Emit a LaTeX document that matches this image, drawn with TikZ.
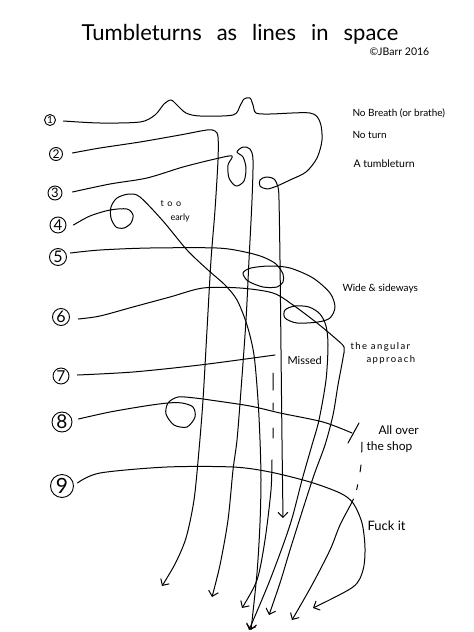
\documentclass[tikz,border=0pt]{standalone}
\usepackage{fontspec}
\setmainfont{Lato}
\usetikzlibrary{arrows.meta}
\begin{document}
\begin{tikzpicture}[x=1pt,y=-1pt,line width=1pt,line cap=round,line join=round,
  arr/.style={-{Straight Barb[length=5pt,width=10pt]}},
  sm/.style={smooth,tension=0.5},
  num/.style={circle,draw,line width=0.9pt,inner sep=0pt},
  hand/.style={inner sep=0pt,anchor=base west}]
\useasboundingbox (0,0) rectangle (474,632);
% title
\node[inner sep=0pt,anchor=base,font=\fontsize{22}{24}\selectfont] (title) at (240,40) {\spaceskip=15pt Tumbleturns as lines in space};
\node[hand,font=\fontsize{10.5}{12}\selectfont] (copy) at (369,55) {\textcopyright JBarr 2016};
% number circles
\node[num,minimum size=11pt,font=\fontsize{10}{10}\selectfont] (c1) at (50,120) {1};
\node[num,minimum size=13pt,font=\fontsize{12}{12}\selectfont] (c2) at (56,154) {2};
\node[num,minimum size=14pt,font=\fontsize{13}{13}\selectfont] (c3) at (55,193) {3};
\node[num,minimum size=16pt,font=\fontsize{15}{15}\selectfont] (c4) at (58,225) {4};
\node[num,minimum size=17pt,font=\fontsize{16}{16}\selectfont] (c5) at (58,257) {5};
\node[num,minimum size=17pt,font=\fontsize{16}{16}\selectfont] (c6) at (61,317) {6};
\node[num,minimum size=16pt,font=\fontsize{15}{15}\selectfont] (c7) at (61,376) {7};
\node[num,minimum size=20pt,font=\fontsize{19}{19}\selectfont] (c8) at (62,422) {8};
\node[num,minimum size=23pt,font=\fontsize{21}{21}\selectfont] (c9) at (62,486) {9};
% labels
\node[hand,font=\fontsize{10}{12}\selectfont] (l1) at (352,116) {No Breath (or brathe)};
\node[hand,font=\fontsize{10}{12}\selectfont] (l2) at (352,138) {No turn};
\node[hand,font=\fontsize{10.5}{12}\selectfont] (l3) at (353,167) {A tumbleturn};
\node[hand,font=\fontsize{9}{10}\selectfont\addfontfeature{LetterSpace=40}] (l4a) at (160,206) {too};
\node[hand,font=\fontsize{9}{10}\selectfont] (l4b) at (170,220) {early};
\node[hand,font=\fontsize{10}{12}\selectfont] (l5) at (342,291) {Wide \& sideways};
\node[hand,font=\fontsize{9.5}{10}\selectfont\addfontfeature{LetterSpace=15}] (l6a) at (350,349) {the angular};
\node[hand,font=\fontsize{9.5}{10}\selectfont\addfontfeature{LetterSpace=15}] (l6b) at (366,362) {approach};
\node[hand,font=\fontsize{11}{12}\selectfont] (l7) at (287,364) {Missed};
\node[hand,font=\fontsize{12}{13}\selectfont] (l8a) at (378,434) {All over};
\node[hand,font=\fontsize{12}{13}\selectfont] (l8b) at (366,450) {the shop};
\node[hand,font=\fontsize{13}{14}\selectfont] (l9) at (367,530) {Fuck it};
% start points
\coordinate (s1) at ([xshift=7.5pt,yshift=-1pt]c1.east);
\coordinate (s2) at ([xshift=9.5pt,yshift=1pt]c2.east);
\coordinate (s3) at ([xshift=10pt,yshift=1pt]c3.east);
\coordinate (s4) at ([xshift=7pt]c4.east);
\coordinate (s5) at ([xshift=3.5pt,yshift=4pt]c5.east);
\coordinate (s6) at ([xshift=8.5pt,yshift=-2pt]c6.east);
\coordinate (s7) at ([xshift=8pt,yshift=1pt]c7.east);
\coordinate (s8) at ([xshift=6pt,yshift=3pt]c8.east);
\coordinate (s9) at ([xshift=3.5pt,yshift=3pt]c9.east);
% end points
\coordinate (e1) at (283,518);
\coordinate (e2) at (162,586);
\coordinate (e3) at (212,597);
\coordinate (e4) at (251,630);
\coordinate (e5) at (249,630);
\coordinate (e6) at (269,615);
\coordinate (m7) at (275,355);
\coordinate (d7) at (273,373);
\coordinate (e7) at (242,608);
\coordinate (n8) at (352,433);
\coordinate (sl1) at (348,443);
\coordinate (sl2) at (359,423);
\coordinate (d8) at (362,442);
\coordinate (e8) at (292,620);
\coordinate (e9) at (313,608);
% line 1
\draw[arr] plot[sm] coordinates {(s1) (100,123) (140,122) (155,115) (164,104) (171,100) (177,105) (186,113) (200,116) (233,115) (240,106) (244,99) (250,98) (253,105) (256,113) (270,114) (310,113) (320,122) (322,140) (317,158) (306,172) (290,180) (277,186) (267,189) (260,186) (260,180) (266,177) (274,179) (278,187) (279,200) (280,260) (281,350) (282,440) (e1)};
% line 2
\draw[arr] plot[sm] coordinates {(s2) (100,148) (140,142) (180,135) (207,130) (215,131) (218,137) (218,160) (215,210) (211,260) (207,330) (203,400) (199,450) (194,500) (186,538) (175,564) (e2)};
% line 3
\draw[arr] plot[sm] coordinates {(s3) (110,184) (147,178) (183,167) (215,159) (232,156) (228,165) (229,178) (236,186) (244,181) (246,168) (243,157) (237,152) (243,147) (250,149) (253,160) (252,200) (249,260) (246,320) (241,390) (237,440) (233,470) (228,520) (220,565) (e3)};
% line 4
\draw[arr] plot[sm] coordinates {(s4) (90,216) (110,210) (127,209) (133,215) (131,223) (124,228) (116,227) (111,218) (111,207) (117,198) (129,194) (140,197) (163,221) (187,250) (208,270) (225,285) (237,300) (247,325) (254,355) (258,400) (260,440) (261,480) (260,523) (257,573) (e4)};
% line 5
\draw[arr] plot[sm] coordinates {(s5) (100,250) (150,248) (217,248) (245,252) (263,257) (276,264) (283,274) (283,282) (277,287) (263,287) (248,281) (243,273) (251,268) (270,266) (290,268) (313,278) (330,293) (335,307) (330,318) (318,322) (297,323) (285,318) (285,310) (295,306) (309,307) (320,314) (326,326) (328,345) (326,380) (319,420) (312,445) (302,480) (290,525) (270,580) (e5)};
% line 6
\draw[arr] plot[sm] coordinates {(s6) (100,316) (133,307) (170,297) (203,288) (240,288) (273,293) (293,305) (317,323) (335,338) (344,347) (343,358) (338,385) (333,415) (325,445) (314,475) (302,512) (290,550) (280,583) (e6)};
% line 7
\draw plot[sm] coordinates {(s7) (133,372) (200,365) (m7)};
\draw[arr,dash pattern=on 17pt off 13pt on 7pt off 18pt on 10pt off 22pt on 400pt] plot[sm] coordinates {(d7) (273,400) (273,440) (272,460) (271,490) (265,540) (257,580) (e7)};
% line 8
\draw plot[sm] coordinates {(s8) (110,412) (145,406) (168,403) (182,403) (193,407) (195,417) (187,427) (174,425) (166,414) (168,403) (178,397) (195,398) (210,400) (250,406) (280,413) (323,422) (n8)};
\draw (sl1) -- (sl2);
\draw[arr,dash pattern=on 10pt off 13pt on 7pt off 13pt on 5pt off 10pt on 400pt] plot[sm] coordinates {(d8) (361,465) (357,488) (353,500) (340,525) (330,550) (312,585) (e8)};
% line 9
\draw[arr] plot[sm] coordinates {(s9) (100,473) (167,467) (233,467) (270,472) (310,482) (340,493) (353,503) (362,523) (365,548) (363,570) (353,587) (e9)};
\end{tikzpicture}
\end{document}
